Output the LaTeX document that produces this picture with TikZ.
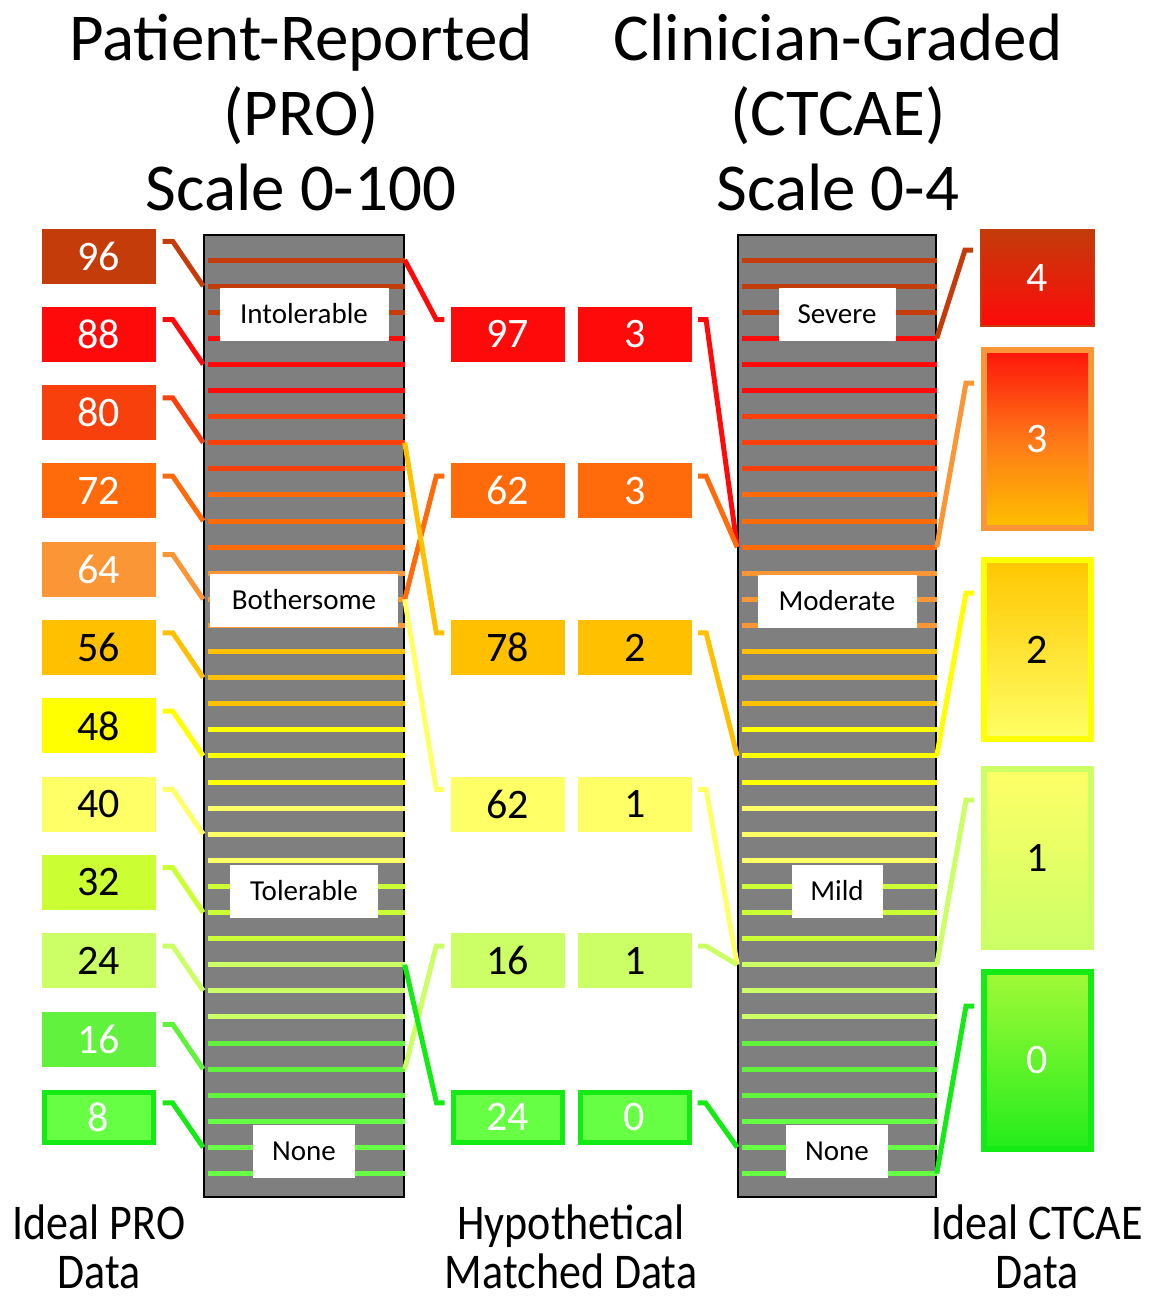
\documentclass[tikz,border=0pt]{standalone}
\usepackage{fontspec}
\setmainfont{Carlito}
\usepackage{graphicx}
\usepackage{xcolor}
\usepackage{tikz}
\usetikzlibrary{positioning,calc}

\definecolor{c96}{HTML}{C33C0A}
\definecolor{c88}{HTML}{FF0A0A}
\definecolor{c80}{HTML}{F8400C}
\definecolor{c72}{HTML}{FF6A0A}
\definecolor{c64}{HTML}{FA9636}
\definecolor{c56}{HTML}{FFC000}
\definecolor{c48}{HTML}{FFFF00}
\definecolor{c40}{HTML}{FFFF66}
\definecolor{c32}{HTML}{CCFF33}
\definecolor{c24}{HTML}{CCFF66}
\definecolor{c16}{HTML}{60F23C}
\definecolor{c8}{HTML}{66FF44}
\definecolor{cgreen}{HTML}{14EB14}
\definecolor{cbar}{HTML}{7F7F7F}

\newcommand\narrow[1]{\scalebox{.88}[1]{#1}}

\begin{document}
\begin{tikzpicture}[x=1pt, y=-1pt,
    heading/.style={align=center, font=\fontsize{67}{75}\selectfont, inner sep=0pt},
    footer/.style={align=center, font=\fontsize{50}{49}\selectfont, inner sep=0pt},
    bar/.style={rectangle, draw=black, line width=1.5pt, fill=cbar, minimum width=200pt, minimum height=962pt, inner sep=0pt},
    tag/.style={rectangle, fill=white, minimum height=53pt, inner sep=0pt, font=\fontsize{29}{31}\selectfont},
    valbox/.style={rectangle, minimum width=114pt, minimum height=55pt, inner sep=0pt, font=\fontsize{42}{44}\selectfont},
    greenbox/.style={valbox, draw=cgreen, line width=5pt, fill=c8, minimum width=109pt, minimum height=50pt},
    gradebox/.style={rectangle, minimum width=113pt, inner sep=0pt, font=\fontsize{42}{44}\selectfont},
    stripe/.style={line width=5pt},
    link/.style={line width=5pt}
]
\useasboundingbox (0,0) rectangle (1159,1301);

% headings
\node[heading, anchor=north] (protitle) at (301,14) {Patient-Reported\\(PRO)\\Scale 0-100};
\node[heading, anchor=north] (ctctitle) at (838,14) {Clinician-Graded\\(CTCAE)\\Scale 0-4};

% the two scales
\node[bar] (probar) at (304,716) {};
\node[bar, minimum width=198pt] (ctcbar) at (837,716) {};
\foreach \c [count=\g from 0] in {c96,c88,c80,c72,c64,c56,c48,c40,c32,c24,c16,c8} {
  \foreach \j in {1,2,3} {
    \pgfmathtruncatemacro\k{3*\g+\j}
    \pgfmathsetmacro\y{260+26.1*(\k-1)}
    \coordinate (Pl\k) at (probar.west |- 0,\y);
    \coordinate (Pr\k) at (probar.east |- 0,\y);
    \coordinate (Cl\k) at (ctcbar.west |- 0,\y);
    \coordinate (Cr\k) at (ctcbar.east |- 0,\y);
    \draw[stripe,\c] ($(Pl\k)+(5,0)$) -- (Pr\k);
    \draw[stripe,\c] ($(Cl\k)+(5,0)$) -- (Cr\k);
  }
}
\node[tag, minimum width=169pt] (intol) at (probar.center |- 0,314) {Intolerable};
\node[tag, minimum width=188pt] (bother) at (probar.center |- 0,600) {Bothersome};
\node[tag, minimum width=148pt] (toler) at (probar.center |- 0,891) {Tolerable};
\node[tag, minimum width=102pt] (pronone) at (probar.center |- 0,1151) {None};
\node[tag, minimum width=117pt] (severe) at (ctcbar.center |- 0,314) {Severe};
\node[tag, minimum width=159pt] (moder) at (ctcbar.center |- 0,601) {Moderate};
\node[tag, minimum width=91pt] (mild) at (ctcbar.center |- 0,891) {Mild};
\node[tag, minimum width=102pt] (ctcnone) at (ctcbar.center |- 0,1151) {None};

% ideal PRO data
\foreach \v/\c/\tc [count=\i from 0] in {96/c96/white, 88/c88/white, 80/c80/white, 72/c72/white, 64/c64/white, 56/c56/black, 48/c48/black, 40/c40/black, 32/c32/black, 24/c24/black, 16/c16/white} {
  \pgfmathsetmacro\y{256+78.3*\i}
  \pgfmathtruncatemacro\k{3*\i+2}
  \node[valbox, fill=\c, text=\tc] (pro\v) at (98.5,\y) {\v};
  \draw[link,\c] ($(pro\v.north east)+(7,13)$) -- ++(10,0) -- (Pl\k);
}
\node[greenbox, text=white] (pro8) at (98.5,1117.3) {8};
\draw[link,cgreen] ($(pro8.north east)+(7,13)$) -- ++(10,0) -- (Pl35);

% hypothetical matched data
\foreach \v/\g/\c/\tc/\sa/\sb [count=\i from 0] in {97/3/c88/white/1/12, 62/3/c72/white/14/12, 78/2/c56/black/8/20, 62/1/c40/black/14/28, 16/1/c24/black/32/28} {
  \pgfmathsetmacro\y{334.3+156.6*\i}
  \node[valbox, fill=\c, text=\tc] (mp\i) at (507.5,\y) {\v};
  \node[valbox, fill=\c, text=\tc, right=13pt of mp\i] (mc\i) {\g};
  \draw[link,\c] (Pr\sa) -- ($(mp\i.north west)+(-14,13)$) -- ++(8,0);
  \draw[link,\c] ($(mc\i.north east)+(6,13)$) -- ++(8,0) -- (Cl\sb);
}
\node[greenbox, text=white] (mp5) at (507.5,1117.3) {24};
\node[greenbox, text=white, right=13pt of mp5] (mc5) {0};
\draw[link,cgreen] (Pr28) -- ($(mp5.north west)+(-14,13)$) -- ++(8,0);
\draw[link,cgreen] ($(mc5.north east)+(6,13)$) -- ++(8,0) -- (Cl35);

% ideal CTCAE data
\node[gradebox, minimum height=96pt, draw=c96, line width=2pt, top color=c96, bottom color=c88, text=white] (ct4) at (1037.5,278) {4};
\node[gradebox, minimum width=107pt, minimum height=178pt, draw=c64, line width=6pt, top color=c88!90!c72, bottom color=c56, middle color=c72!70!c64, text=white] (ct3) at (1037.5,439) {3};
\node[gradebox, minimum width=107pt, minimum height=179pt, draw=c48, line width=6pt, top color=c56!90!c48, bottom color=c40, text=black] (ct2) at (1037.5,649.5) {2};
\node[gradebox, minimum width=107pt, minimum height=178pt, draw=c24, line width=6pt, top color=c40, bottom color=c24, text=black] (ct1) at (1037.5,858) {1};
\node[gradebox, minimum width=107pt, minimum height=177pt, draw=cgreen, line width=6pt, top color=c32!60!c16, bottom color=cgreen!80!c16, text=white] (ct0) at (1037.5,1060.5) {0};
\foreach \n/\c/\k/\o in {4/c96/4/21, 3/c64/12/36, 2/c48/20/36, 1/c24/28/34, 0/cgreen/36/37}
  \draw[link,\c] (Cr\k) -- ($(ct\n.north west)+(-15,\o)$) -- ++(8,0);

% captions
\node[footer, anchor=north] (idealpro) at (99,1205) {\narrow{Ideal PRO}\\\narrow{Data}};
\node[footer, anchor=north] (matched) at (571,1205) {\narrow{Hypothetical}\\\narrow{Matched Data}};
\node[footer, anchor=north] (idealctc) at (1037,1205) {\narrow{Ideal CTCAE}\\\narrow{Data}};

\end{tikzpicture}
\end{document}
